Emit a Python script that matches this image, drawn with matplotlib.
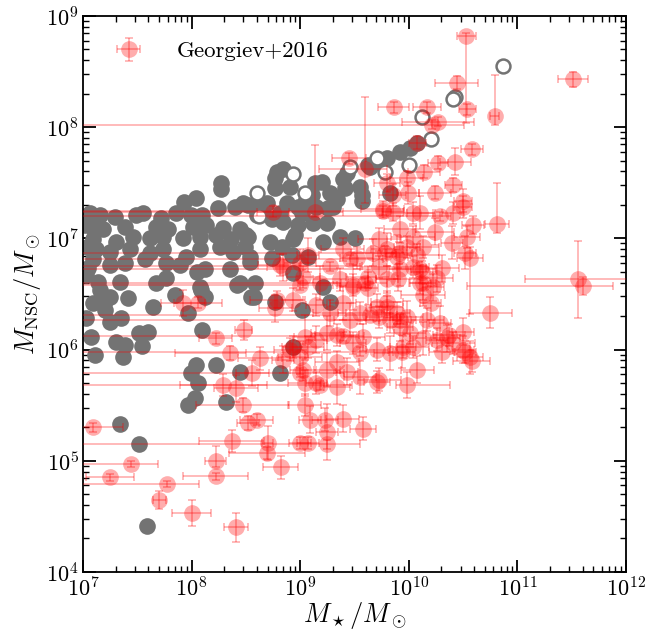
import numpy as np
import matplotlib
matplotlib.use("Agg")
import matplotlib.pyplot as plt

plt.rcParams['font.family'] = 'serif'
plt.rcParams['font.serif'] = ['cmr10']
plt.rcParams['mathtext.fontset'] = 'cm'
plt.rcParams['axes.formatter.use_mathtext'] = True

# model nuclear star clusters, log10 masses (filled)
model_lmstar = [
    8.27, 8.27, 7.93, 8.04, 7.06, 7.16, 7.29, 7.49, 7.55, 7.72,
    7.86, 7.99, 8.10, 8.24, 8.40, 8.52, 7.09, 7.18, 7.39, 7.46,
    7.67, 7.78, 8.01, 8.13, 8.29, 8.45, 7.09, 7.30, 7.62, 7.74,
    7.92, 8.08, 8.22, 8.36, 8.50, 7.12, 7.25, 7.43, 7.62, 7.74,
    7.95, 8.08, 8.26, 8.38, 8.54, 7.09, 7.25, 7.39, 7.57, 7.76,
    7.89, 8.12, 8.35, 7.14, 7.34, 7.67, 7.76, 8.08, 8.45, 7.16,
    7.25, 7.41, 7.09, 7.20, 7.35, 7.25, 7.85, 8.09, 8.12, 8.55,
    7.64, 7.97, 8.10, 7.52, 7.60, 7.07, 7.30, 7.39, 7.54, 7.11,
    7.37, 8.04, 8.22, 7.99, 8.06, 8.45, 8.03, 7.97, 8.32, 7.34,
    7.52, 7.59, 8.79, 8.84, 8.77, 8.91, 8.77, 9.14, 9.20, 9.27,
    9.34, 9.11, 9.04, 9.15, 8.98, 8.88, 8.69, 8.57, 8.47, 8.66,
    8.81, 9.02, 9.26, 8.74, 8.84, 8.98, 9.25, 8.95, 9.37, 9.50,
    9.21, 8.72, 8.83, 8.93, 8.52, 8.49, 8.54, 8.74, 8.92, 9.07,
    8.93, 8.58, 9.21, 9.43, 9.62, 9.71, 9.80, 9.92, 10.01, 10.08,
    9.41, 9.57, 9.64, 9.55, 9.39, 8.57, 8.77, 9.27, 9.02, 8.93,
    8.81, 8.05, 8.42, 7.20, 8.60, 9.12, 9.30, 9.57, 9.83, 7.02,
    7.03, 7.03, 7.04, 7.05,
]
model_lmnsc = [
    7.50, 7.44, 7.33, 7.36, 7.23, 7.21, 7.19, 7.21, 7.23, 7.18,
    7.23, 7.21, 7.21, 7.27, 7.28, 7.30, 7.09, 7.08, 7.10, 7.01,
    7.10, 7.08, 7.10, 7.12, 7.09, 7.08, 6.99, 6.97, 7.00, 7.01,
    7.00, 7.01, 7.03, 6.99, 7.03, 6.90, 6.88, 6.90, 6.87, 6.90,
    6.83, 6.90, 6.92, 6.88, 6.83, 6.81, 6.76, 6.78, 6.81, 6.78,
    6.76, 6.72, 6.72, 6.61, 6.61, 6.60, 6.64, 6.56, 6.60, 6.54,
    6.47, 6.46, 6.42, 6.36, 6.28, 6.25, 6.49, 6.54, 6.47, 6.47,
    6.38, 6.33, 6.18, 6.15, 6.16, 6.11, 6.07, 6.04, 6.03, 5.95,
    5.93, 5.86, 5.86, 5.79, 5.70, 5.80, 5.56, 5.50, 5.53, 5.33,
    5.15, 4.41, 7.60, 7.62, 7.54, 7.46, 7.45, 7.50, 7.51, 7.41,
    7.35, 7.39, 7.33, 7.28, 7.28, 7.32, 7.32, 7.30, 7.32, 7.23,
    7.23, 7.23, 7.27, 7.17, 7.15, 7.12, 7.14, 7.03, 7.01, 7.00,
    6.97, 6.97, 6.92, 6.99, 7.01, 6.92, 6.79, 6.82, 6.85, 6.83,
    6.69, 6.60, 6.56, 7.59, 7.66, 7.69, 7.72, 7.78, 7.81, 7.86,
    7.45, 7.39, 7.64, 7.46, 7.53, 6.47, 6.43, 6.43, 6.36, 6.02,
    5.79, 6.70, 6.58, 6.44, 7.21, 7.14, 7.28, 7.34, 7.41, 7.12,
    6.67, 6.28, 6.92, 6.73,
]

# model clusters shown as open circles
open_lmstar = [10.87, 10.43, 10.41, 10.12, 10.20, 10.00, 9.78, 9.71, 9.46, 8.93, 8.60, 9.04, 8.62]
open_lmnsc = [8.55, 8.27, 8.25, 8.09, 7.89, 7.66, 7.60, 7.72, 7.64, 7.58, 7.41, 7.41, 7.20]

# Georgiev+2016: log10 masses and errors in dex (lower / upper)
geo_lmstar = [
    10.53, 11.51, 10.44, 9.86, 10.17, 10.54, 10.79, 10.27, 10.21, 10.58,
    10.43, 10.27, 10.14, 10.41, 10.24, 10.50, 10.81, 10.08, 9.80, 9.99,
    9.98, 9.45, 9.60, 9.14, 8.75, 9.76, 9.85, 10.04, 8.81, 9.00,
    9.07, 9.39, 9.52, 9.67, 9.80, 9.89, 9.98, 9.73, 9.92, 10.04,
    9.62, 9.80, 9.37, 9.49, 9.73, 9.92, 10.04, 9.85, 10.10, 10.41,
    10.24, 10.54, 10.59, 10.50, 10.40, 10.56, 10.52, 10.13, 10.08, 9.91,
    9.78, 10.31, 10.12, 9.90, 10.13, 10.22, 9.80, 9.92, 10.17, 10.29,
    10.35, 10.41, 10.04, 9.94, 10.08, 10.52, 9.73, 11.56, 11.60, 10.75,
    10.58, 9.98, 9.49, 9.62, 10.10, 10.26, 10.13, 10.20, 9.80, 9.71,
    9.55, 9.46, 9.73, 9.83, 10.01, 10.13, 10.26, 10.50,
    9.34, 9.25, 9.15, 9.07, 9.04, 9.49, 9.58, 9.71, 9.83, 9.95,
    9.71, 9.55, 9.43, 9.34, 9.25, 9.15, 9.04, 9.03, 9.00, 8.91,
    8.84, 8.63, 8.56, 9.34, 9.04, 9.09, 9.23, 9.39, 9.58,
    8.77, 8.93, 9.18, 9.03, 9.39, 9.15, 9.27, 9.89, 9.98, 10.31,
    10.50, 10.37, 10.56,
    7.92, 8.06, 8.48, 8.22, 8.35,
    8.29, 8.41, 8.47, 8.79, 8.84, 8.93,
    7.09, 7.44, 7.25, 7.77, 7.70, 8.00, 8.41, 8.22, 8.22, 8.37,
    8.52, 8.60, 8.70, 8.69, 8.82, 9.00, 9.07, 9.25,
    9.25,
    9.76, 9.46, 9.27, 9.60, 9.64, 9.92, 9.39, 9.55, 9.00, 9.18,
    10.29, 10.10, 9.00,
]
geo_lmnsc = [
    8.82, 8.43, 8.40, 8.18, 8.18, 8.16, 8.10, 8.05, 8.02, 7.80,
    7.69, 7.68, 7.60, 7.48, 7.41, 7.34, 7.13, 7.86, 7.50, 7.41,
    7.54, 7.72, 7.62, 7.24, 7.24, 7.26, 7.39, 7.23, 6.76, 6.78,
    6.85, 6.90, 6.82, 6.87, 6.90, 6.83, 6.92, 6.74, 6.72, 6.74,
    6.65, 6.63, 6.63, 6.56, 6.99, 7.08, 7.01, 7.24, 7.23, 7.23,
    7.06, 7.01, 7.12, 7.28, 6.96, 6.82, 6.87, 6.92, 6.85, 6.87,
    6.87, 6.73, 6.70, 6.63, 6.60, 6.56, 6.38, 6.20, 6.27, 6.24,
    6.10, 6.06, 6.02, 5.98, 5.82, 5.98, 5.73, 6.63, 6.57, 6.33,
    5.90, 5.68, 6.58, 6.55, 6.60, 6.64, 6.49, 6.42, 6.43, 6.38,
    6.33, 6.27, 6.29, 6.27, 6.15, 6.10, 6.09, 6.00,
    6.13, 6.15, 6.09, 6.02, 6.11, 6.06, 6.11, 6.00, 5.97, 6.02,
    5.71, 5.75, 5.80, 5.89, 5.82, 5.70, 5.70, 5.82, 5.93, 6.00,
    5.91, 5.92, 5.79, 5.66, 5.50, 5.37, 5.37, 5.38, 5.29,
    6.37, 6.45, 6.60, 6.65, 6.42, 6.40, 6.33, 6.33, 6.29, 5.98,
    6.16, 6.13, 5.93,
    6.42, 6.42, 6.18, 6.10, 5.97,
    5.68, 5.65, 5.50, 6.45, 6.74, 6.02,
    5.30, 4.97, 4.85, 4.79, 4.65, 4.53, 4.40, 5.00, 4.86, 5.18,
    5.34, 5.37, 5.16, 5.07, 4.94, 5.16, 5.16, 5.15,
    5.26,
    7.25, 6.81, 6.75, 6.60, 6.31, 6.27, 6.12, 5.98, 5.79, 5.68,
    7.20, 6.72, 6.58,
]
geo_xlo = [
    .09, .14, .2, .14, .13, .08, .04, .33, 4, .1,
    .14, .09, .15, .08, .15, .08, .11, .08, .12, .1,
    .15, .16, .43, 4, .15, .2, .12, .2, .2, .15,
    .1, .2, .15, .2, .15, .1, .12, .18, .1, .15,
    .2, .1, .25, .12, .2, .15, .2, .1, .12, .1,
    .18, .12, .1, .08, .1, .12, .1, .15, .2, .12,
    4, .15, .1, .2, .12, .1, .15, .12, .15, .1,
    .12, .2, .15, .12, .15, .1, .2, .49, 1.06, .2,
    .17, .1, .15, .1, .1, .15, .2, .1, .15, .1,
    .2, .15, .12, .1, .15, .12, .1, .1,
    .2, .15, .1, .15, .1, .12, .2, .1, .15, .12,
    .12, .15, .1, .2, .12, .1, .15, .12, .2, .15,
    .1, .2, .15, .12, .15, .1, .12, .15, .12,
    .15, .1, .2, .15, .12, .1, .15, .12, .15, .12,
    .1, .15, .12,
    .2, .22, .08, .15, .5,
    .4, .2, .43, .25, .15, .1,
    .5, 4, .22, 4, .06, .18, .11, .1, .3, .3,
    .1, .15, .05, .35, .16, .1, .1, 4,
    .1,
    4, 4, 4, 4, 4, 4, 4, 4, 4, 4,
    4, 4, 4,
]
geo_xhi = [
    .09, .14, .2, .14, .13, .08, .04, .33, .3, .1,
    .14, .09, .15, .08, .15, .08, .11, .08, .12, .1,
    .15, .16, .2, .25, .15, .2, .12, .2, .2, .15,
    .1, .2, .15, .2, .15, .1, .12, .18, .1, .15,
    .2, .1, .25, .12, .2, .15, .2, .1, .12, .1,
    .18, .12, .1, .08, .1, .12, .1, .15, .2, .12,
    .1, .15, .1, .2, .12, .1, .15, .12, .15, .1,
    .12, .2, .15, .12, .15, .1, .2, .49, .28, .2,
    .17, .4, .15, .1, .1, .15, .2, .1, .15, .1,
    .2, .15, .12, .1, .15, .12, .1, .1,
    .2, .15, .1, .15, .1, .12, .2, .1, .15, .12,
    .12, .15, .1, .2, .12, .1, .15, .12, .2, .15,
    .1, .2, .15, .12, .15, .1, .12, .15, .12,
    .15, .1, .2, .15, .12, .1, .15, .12, .15, .12,
    .1, .15, .12,
    .2, .22, .08, .15, .15,
    .4, .2, .43, .25, .15, .1,
    .28, .25, .22, .3, .06, .18, .11, .1, .3, .3,
    .1, .15, .05, .35, .16, .1, .1, .3,
    .1,
    .2, .3, .3, .2, .25, .15, .2, .3, .4, .3,
    .1, .15, .3,
]
geo_ylo = [
    .78, .07, .06, .05, .05, .05, .08, .04, .04, .05,
    .12, .06, .06, .06, .06, .1, .08, .06, .08, .1,
    .07, .05, .3, .05, .05, .08, .1, .1, .1, .12,
    .15, .1, .1, .12, .15, .2, .1, .1, .15, .1,
    .1, .12, .1, .2, .1, .12, .1, .08, .15, .1,
    .12, .1, .08, .1, .15, .5, .15, .1, .1, .1,
    .06, .12, .1, .1, .15, .12, .1, .12, .1, .15,
    .12, .1, .1, .15, .12, .1, .1, .35, .08, .14,
    .1, .12, .1, .15, .1, .12, .1, .15, .1, .12,
    .1, .15, .1, .12, .1, .15, .1, .12,
    .1, .15, .12, .1, .2, .1, .12, .1, .15, .1,
    .1, .15, .12, .1, .15, .1, .12, .1, .15, .1,
    .12, .1, .12, .15, .1, .12, .1, .12, .1,
    .12, .1, .15, .1, .15, .1, .12, .1, .15, .1,
    .12, .1, .15,
    .12, .05, .09, .05, .06,
    .1, .12, .06, .08, .12, .1,
    .04, .03, .03, .03, .08, .12, .13, .06, .03, .1,
    .06, .05, .15, .05, .1, .05, .05, .04,
    .25,
    .04, .04, .04, .04, .04, .04, .04, .04, .04, .04,
    .04, .04, .04,
]
geo_yhi = [
    .03, .07, .06, .05, .05, .05, .37, .04, .04, .05,
    .12, .06, .06, .06, .06, .1, .37, .06, .08, .1,
    .07, .05, .65, .6, .05, .08, .1, .1, .1, .12,
    .15, .1, .1, .12, .15, .2, .1, .1, .15, .1,
    .1, .12, .1, .2, .1, .12, .1, .08, .15, .1,
    .12, .1, .08, .1, .15, .1, .15, .1, .1, .1,
    .06, .12, .1, .1, .15, .12, .1, .12, .1, .15,
    .12, .1, .1, .15, .12, .1, .1, .35, .08, .14,
    .1, .12, .1, .15, .1, .12, .1, .15, .1, .12,
    .1, .15, .1, .12, .1, .15, .1, .12,
    .1, .15, .12, .1, .2, .1, .12, .1, .15, .1,
    .1, .15, .12, .1, .15, .1, .12, .1, .15, .1,
    .12, .1, .12, .15, .1, .12, .1, .12, .1,
    .12, .1, .15, .1, .15, .1, .12, .1, .15, .1,
    .12, .1, .15,
    .12, .05, .09, .05, .06,
    .1, .12, .06, .08, .12, .1,
    .04, .03, .03, .03, .08, .12, .13, .13, .03, .1,
    .06, .05, .15, .05, .1, .05, .05, .04,
    .25,
    .04, .04, .04, .04, .04, .04, .04, .04, .04, .04,
    .04, .04, .04,
]


def dex_to_linear(logv, lo, hi):
    v = 10 ** np.asarray(logv)
    return v, np.vstack([v - 10 ** (np.asarray(logv) - np.asarray(lo)),
                         10 ** (np.asarray(logv) + np.asarray(hi)) - v])


fig = plt.figure(figsize=(6.62, 6.40), dpi=100)
ax = fig.add_axes([0.1254, 0.1063, 0.8202, 0.8688])
ax.set_xscale('log')
ax.set_yscale('log')

ax.plot(10 ** np.array(model_lmstar), 10 ** np.array(model_lmnsc), 'o',
        color='0.45', ms=12, mec='none', zorder=2)
ax.plot(10 ** np.array(open_lmstar), 10 ** np.array(open_lmnsc), 'o',
        mfc='white', mec='0.45', ms=10, mew=1.8, zorder=3)

gx, gxerr = dex_to_linear(geo_lmstar, geo_xlo, geo_xhi)
gy, gyerr = dex_to_linear(geo_lmnsc, geo_ylo, geo_yhi)
ax.errorbar(gx, gy, xerr=gxerr, yerr=gyerr, fmt='o', color='r', ms=12,
            mec='none', alpha=0.32, elinewidth=1.2, capsize=2.8, capthick=1.2,
            zorder=4, label='Georgiev+2016')

ax.set_xlim(1e7, 1e12)
ax.set_ylim(1e4, 1e9)
ax.tick_params(which='both', direction='in', top=True, right=True, labelsize=16, pad=3)
ax.tick_params(which='major', length=9, width=1.3)
ax.tick_params(which='minor', length=4.5, width=1.0)
for sp in ax.spines.values():
    sp.set_linewidth(1.3)

ax.set_xlabel(r'$M_\star/M_\odot$', fontsize=19, labelpad=0)
ax.set_ylabel(r'$M_{\rm NSC}/M_\odot$', fontsize=19, labelpad=2)

ax.legend(loc='upper left', frameon=False, fontsize=16.5, numpoints=1,
          handlelength=1.8, handletextpad=1.2, borderaxespad=0.7)

fig.savefig('out.png', dpi=100)
